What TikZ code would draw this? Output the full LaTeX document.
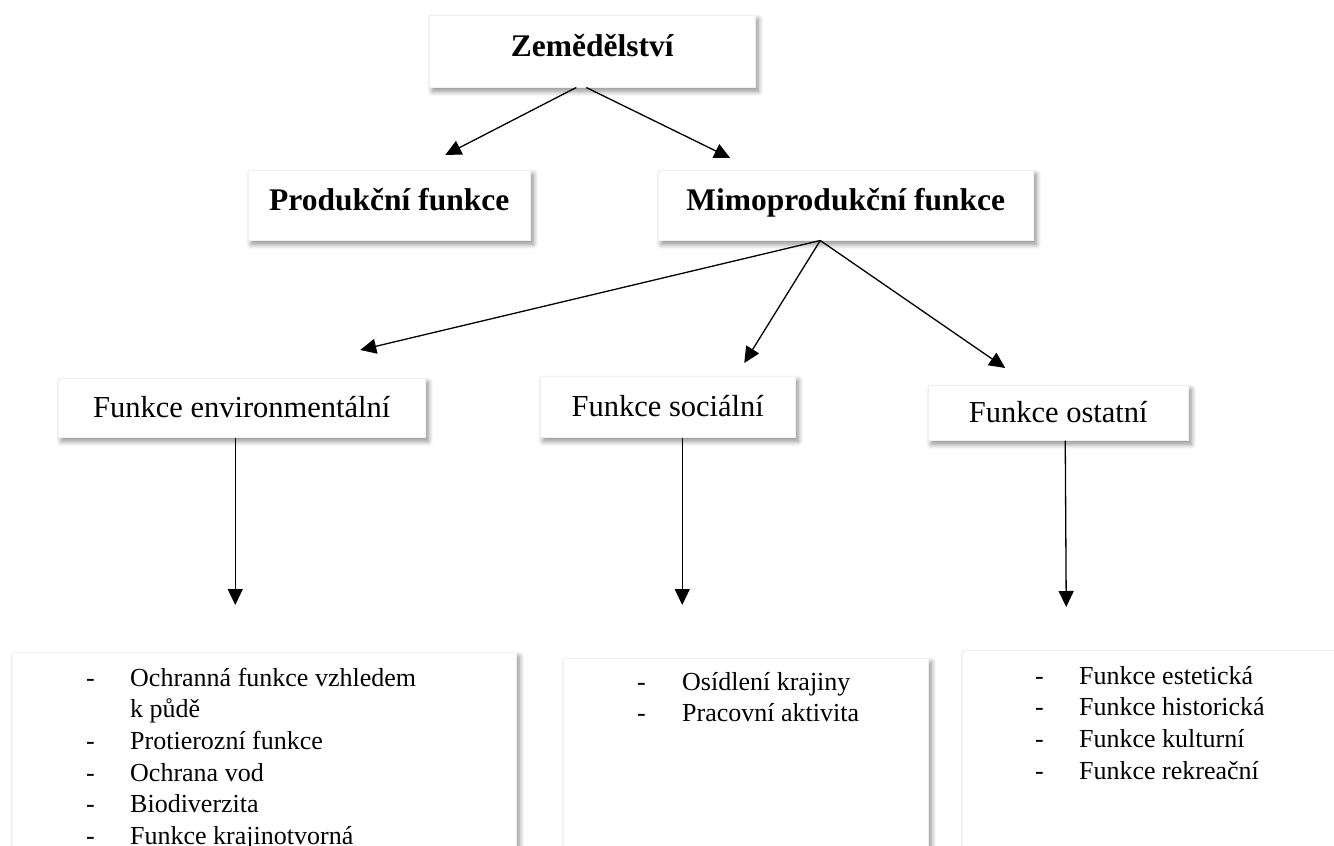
\documentclass[tikz,border=0pt]{standalone}
\usepackage{fontspec}
\setmainfont{Liberation Serif}
\usetikzlibrary{arrows.meta,shadows.blur}
\tikzset{
  box/.style={fill=white, draw=black!6, line width=0.5pt,
    blur shadow={shadow xshift=3pt, shadow yshift=-4pt, shadow blur radius=5pt, shadow blur steps=8, shadow opacity=45},
    anchor=north west, inner sep=0pt, align=center},
  boldlbl/.style={font=\bfseries\fontsize{31.5}{36}\selectfont, text height=19pt, text depth=8pt},
  reglbl/.style={font=\fontsize{30.5}{36}\selectfont, text height=21pt, text depth=1pt},
  arr/.style={line width=1.3pt, -{Triangle[length=16pt,width=15pt]}},
  listtxt/.style={font=\fontsize{26}{31.7}\selectfont, anchor=base west, inner sep=0pt, align=left},
}
\begin{document}
\begin{tikzpicture}[x=1pt,y=-1pt]
\useasboundingbox (0,0) rectangle (1334,846);
\clip (0,0) rectangle (1334,846);

% top level
\node[box, boldlbl, minimum width=326pt, minimum height=72pt] (zem) at (429,15) {Zemědělství};
\node[box, boldlbl, minimum width=282pt, minimum height=70pt] (prod) at (248,170) {Produkční funkce};
\node[box, boldlbl, minimum width=375pt, minimum height=70pt] (mimo) at (658,170) {Mimoprodukční funkce};

% second level
\node[box, reglbl, minimum width=367pt, minimum height=59pt] (env) at (58,378) {Funkce environmentální};
\node[box, reglbl, minimum width=255pt, minimum height=61pt] (soc) at (540,376) {Funkce sociální};
\node[box, reglbl, minimum width=260pt, minimum height=55pt] (ost) at (928,385) {Funkce ostatní};

% list boxes
\node[box, minimum width=504pt, minimum height=260pt] (envl) at (12,652) {};
\node[box, minimum width=365pt, minimum height=260pt] (socl) at (563,658) {};
\node[box, minimum width=383pt, minimum height=260pt] (ostl) at (962,650) {};

\node[listtxt] (envt) at (86,686) {\begin{tabular}[t]{@{}p{44pt}@{}l@{}}
- & Ochranná funkce vzhledem\\
  & k půdě\\
- & Protierozní funkce\\
- & Ochrana vod\\
- & Biodiverzita\\
- & Funkce krajinotvorná
\end{tabular}};
\node[listtxt] (soct) at (637,690) {\begin{tabular}[t]{@{}p{45pt}@{}l@{}}
- & Osídlení krajiny\\
- & Pracovní aktivita
\end{tabular}};
\node[listtxt] (ostt) at (1035,684) {\begin{tabular}[t]{@{}p{44pt}@{}l@{}}
- & Funkce estetická\\
- & Funkce historická\\
- & Funkce kulturní\\
- & Funkce rekreační
\end{tabular}};

% connectors
\draw[arr] ([xshift=-16pt]zem.south) -- ([xshift=56pt,yshift=15pt]prod.north);
\draw[arr] ([xshift=-6pt]zem.south) -- ([xshift=-115.5pt,yshift=12pt]mimo.north);
\draw[arr] ([xshift=-25.5pt]mimo.south) -- ([xshift=118.5pt,yshift=28pt]env.north);
\draw[arr] ([xshift=-25.5pt]mimo.south) -- ([xshift=76.5pt,yshift=13pt]soc.north);
\draw[arr] ([xshift=-25.5pt]mimo.south) -- ([xshift=-53pt,yshift=17pt]ost.north);
\draw[arr] ([xshift=-6.5pt]env.south) -- ([xshift=-29pt,yshift=47pt]envl.north);
\draw[arr] ([xshift=14.5pt]soc.south) -- ([xshift=-63.5pt,yshift=53pt]socl.north);
\draw[arr] ([xshift=7pt]ost.south) -- ([xshift=-87.5pt,yshift=43pt]ostl.north);
\end{tikzpicture}
\end{document}
